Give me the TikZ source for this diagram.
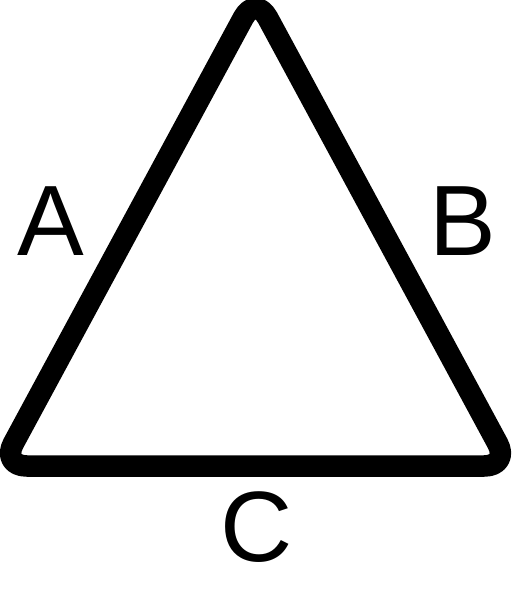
\documentclass[tikz,border=0pt]{standalone}
\usepackage{fontspec}
\setmainfont{Liberation Sans}
\tikzset{
  tri/.style={draw=black, line width=21.5pt, line join=round, rounded corners=25.5pt},
  lbl/.style={inner sep=0pt, anchor=base, font=\fontsize{100}{100}\selectfont}
}
\begin{document}
\begin{tikzpicture}[x=1pt,y=-1pt]
\useasboundingbox (0,0) rectangle (512,600);
\coordinate (top) at (255.5,-4.7);
\coordinate (bl) at (1.2,466);
\coordinate (br) at (509.8,466);
\draw[tri] (bl) -- (top) -- (br) -- cycle;
\node[lbl] (a) at (50.5,255) {A};
\node[lbl] (b) at (462.5,255) {B};
\node[lbl] (c) at (256.5,561.5) {C};
\end{tikzpicture}
\end{document}
